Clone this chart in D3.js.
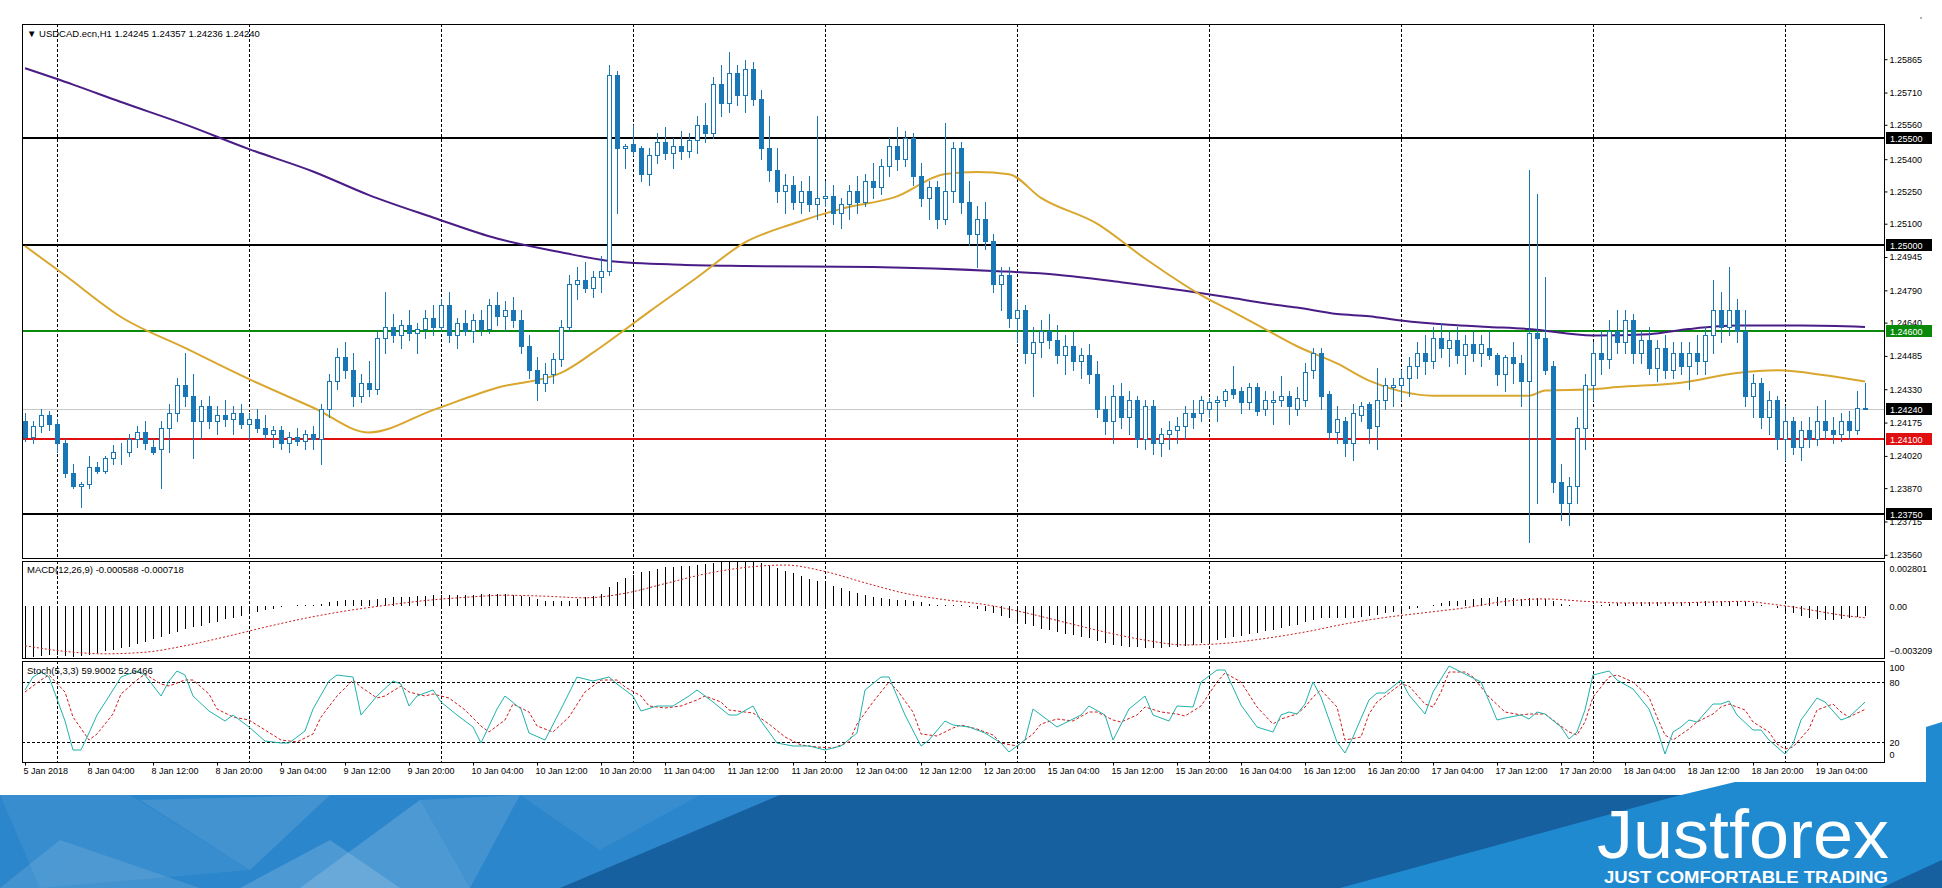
<!DOCTYPE html>
<html>
<head>
<meta charset="utf-8">
<script src="https://cdn.jsdelivr.net/npm/d3@7"></script>
<style>
  body { margin: 0; background: #fff; }
  svg { display: block; }
  text { font-family: "Liberation Sans", Arial, sans-serif; }
</style>
</head>
<body>
<svg></svg>
<script>
// ---- data ----
const title = '\u25BC USDCAD.ecn,H1  1.24245 1.24357 1.24236 1.24240'
const macdTitle = 'MACD(12,26,9) -0.000588 -0.000718'
const stochTitle = 'Stoch(5,3,3) 59.9002 52.6466'

// H1 candles, open / high / low / close
const ohlc = [
  [1.2418,1.2422,1.2409,1.2411],[1.2411,1.2418,1.2408,1.2416],[1.2416,1.2424,1.2413,1.2421],[1.2421,1.2423,1.2414,1.2417],
  [1.2417,1.2419,1.2404,1.2408],[1.2408,1.2410,1.2392,1.2394],[1.2394,1.2398,1.2387,1.2388],[1.2388,1.2390,1.2378,1.2389],
  [1.2389,1.2402,1.2387,1.2397],[1.2397,1.2399,1.2394,1.2395],[1.2395,1.2402,1.2394,1.2401],[1.2401,1.2407,1.2398,1.2404],
  [1.2404,1.2408,1.2398,1.2404],[1.2404,1.2412,1.2402,1.2410],[1.2410,1.2416,1.2406,1.2413],[1.2413,1.2418,1.2405,1.2408],
  [1.2406,1.2410,1.2403,1.2404],[1.2405,1.2418,1.2387,1.2415],[1.2415,1.2426,1.2404,1.2422],[1.2422,1.2438,1.2418,1.2435],
  [1.2435,1.2450,1.2425,1.2430],[1.2430,1.2440,1.2401,1.2418],[1.2418,1.2428,1.2410,1.2425],[1.2425,1.2430,1.2415,1.2418],
  [1.2418,1.2425,1.2412,1.2421],[1.2421,1.2428,1.2416,1.2419],[1.2419,1.2425,1.2412,1.2422],[1.2422,1.2426,1.2415,1.2417],
  [1.2417,1.2422,1.2410,1.2419],[1.2419,1.2424,1.2413,1.2415],[1.2415,1.2421,1.2410,1.2412],[1.2412,1.2416,1.2406,1.2414],
  [1.2414,1.2416,1.2405,1.2408],[1.2408,1.2413,1.2404,1.2411],[1.2411,1.2415,1.2407,1.2409],[1.2409,1.2414,1.2405,1.2412],
  [1.2412,1.2416,1.2405,1.2410],[1.2410,1.2426,1.2398,1.2424],[1.2424,1.2440,1.2420,1.2437],[1.2437,1.2452,1.2433,1.2448],
  [1.2448,1.2455,1.2438,1.2442],[1.2442,1.2450,1.2425,1.2430],[1.2430,1.2440,1.2427,1.2436],[1.2436,1.2446,1.2430,1.2433],
  [1.2433,1.2460,1.2431,1.2457],[1.2457,1.2478,1.2450,1.2462],[1.2462,1.2468,1.2455,1.2458],[1.2458,1.2465,1.2452,1.2463],
  [1.2463,1.2470,1.2456,1.2459],[1.2459,1.2464,1.2450,1.2461],[1.2461,1.2470,1.2457,1.2466],[1.2466,1.2472,1.2458,1.2462],
  [1.2462,1.2475,1.2460,1.2472],[1.2472,1.2478,1.2455,1.2458],[1.2458,1.2466,1.2452,1.2464],[1.2464,1.2470,1.2458,1.2460],
  [1.2460,1.2468,1.2455,1.2465],[1.2465,1.2470,1.2458,1.2461],[1.2461,1.2475,1.2459,1.2472],[1.2472,1.2478,1.2463,1.2467],
  [1.2467,1.2474,1.2460,1.2470],[1.2470,1.2476,1.2462,1.2465],[1.2465,1.2470,1.2450,1.2453],[1.2453,1.2458,1.2438,1.2442],
  [1.2442,1.2448,1.2428,1.2436],[1.2436,1.2445,1.2432,1.2440],[1.2440,1.2450,1.2436,1.2447],[1.2447,1.2465,1.2444,1.2462],
  [1.2462,1.2486,1.2460,1.2482],[1.2482,1.2490,1.2475,1.2484],[1.2484,1.2492,1.2478,1.2480],[1.2480,1.2488,1.2476,1.2485],
  [1.2485,1.2495,1.2478,1.2488],[1.2488,1.2584,1.2486,1.2579],[1.2579,1.2581,1.2515,1.2545],[1.2545,1.2547,1.2536,1.2546],
  [1.2547,1.2556,1.2542,1.2544],[1.2545,1.2546,1.2530,1.2533],[1.2533,1.2545,1.2528,1.2542],[1.2542,1.2552,1.2538,1.2548],
  [1.2548,1.2555,1.2540,1.2543],[1.2543,1.2550,1.2536,1.2546],[1.2546,1.2553,1.2540,1.2544],[1.2544,1.2552,1.2541,1.2549],
  [1.2549,1.2560,1.2543,1.2556],[1.2556,1.2566,1.2548,1.2552],[1.2552,1.2578,1.2550,1.2575],[1.2575,1.2584,1.2560,1.2566],
  [1.2566,1.2590,1.2562,1.2580],[1.2580,1.2584,1.2565,1.2570],[1.2570,1.2586,1.2562,1.2582],[1.2582,1.2585,1.2565,1.2568],
  [1.2568,1.2572,1.2540,1.2545],[1.2545,1.2560,1.2530,1.2535],[1.2535,1.2545,1.2520,1.2525],[1.2525,1.2533,1.2515,1.2528],
  [1.2528,1.2532,1.2517,1.2520],[1.2520,1.2530,1.2515,1.2525],[1.2525,1.2532,1.2516,1.2519],[1.2519,1.2560,1.2512,1.2522],
  [1.2522,1.2530,1.2518,1.2523],[1.2523,1.2528,1.2510,1.2515],[1.2515,1.2522,1.2508,1.2519],[1.2519,1.2528,1.2512,1.2525],
  [1.2525,1.2532,1.2515,1.2520],[1.2520,1.2533,1.2518,1.2530],[1.2530,1.2538,1.2522,1.2527],[1.2527,1.2540,1.2524,1.2537],
  [1.2537,1.2550,1.2532,1.2546],[1.2546,1.2555,1.2535,1.2540],[1.2540,1.2553,1.2537,1.2550],[1.2550,1.2552,1.2528,1.2532],
  [1.2532,1.2538,1.2518,1.2522],[1.2522,1.2530,1.2512,1.2527],[1.2527,1.2530,1.2508,1.2512],[1.2512,1.2557,1.2510,1.2525],
  [1.2525,1.2548,1.2520,1.2545],[1.2545,1.2548,1.2515,1.2520],[1.2520,1.2530,1.2500,1.2505],[1.2505,1.2518,1.2490,1.2512],
  [1.2512,1.2520,1.2498,1.2502],[1.2502,1.2505,1.2478,1.2482],[1.2482,1.2490,1.2470,1.2486],[1.2486,1.2490,1.2462,1.2466],
  [1.2466,1.2475,1.2455,1.2470],[1.2470,1.2472,1.2445,1.2450],[1.2450,1.2462,1.2430,1.2455],[1.2455,1.2465,1.2448,1.2460],
  [1.2460,1.2468,1.2452,1.2456],[1.2456,1.2463,1.2445,1.2449],[1.2449,1.2458,1.2440,1.2453],[1.2453,1.2460,1.2442,1.2446],
  [1.2446,1.2452,1.2438,1.2449],[1.2449,1.2454,1.2436,1.2440],[1.2440,1.2446,1.2420,1.2424],[1.2424,1.2430,1.2412,1.2418],
  [1.2418,1.2435,1.2408,1.2430],[1.2430,1.2436,1.2415,1.2420],[1.2420,1.2432,1.2412,1.2428],[1.2428,1.2430,1.2406,1.2410],
  [1.2410,1.2428,1.2405,1.2425],[1.2425,1.2428,1.2403,1.2408],[1.2408,1.2415,1.2402,1.2412],[1.2412,1.2418,1.2405,1.2414],
  [1.2414,1.2420,1.2408,1.2416],[1.2416,1.2425,1.2410,1.2422],[1.2422,1.2428,1.2415,1.2420],[1.2422,1.2430,1.2418,1.2428],
  [1.2424,1.2429,1.2420,1.2427],[1.2427,1.2430,1.2418,1.2428],[1.2428,1.2433,1.2425,1.2432],[1.2433,1.2444,1.2429,1.2431],
  [1.2432,1.2434,1.2422,1.2427],[1.2427,1.2436,1.2424,1.2434],[1.2434,1.2436,1.2421,1.2423],[1.2424,1.2432,1.2421,1.2428],
  [1.2427,1.2432,1.2417,1.2428],[1.2428,1.2439,1.2425,1.2430],[1.2430,1.2432,1.2417,1.2425],[1.2424,1.2434,1.2421,1.2429],
  [1.2428,1.2445,1.2425,1.2441],[1.2442,1.2452,1.2438,1.2450],[1.2450,1.2452,1.2424,1.2430],[1.2431,1.2432,1.2410,1.2413],
  [1.2413,1.2425,1.2408,1.2419],[1.2418,1.2420,1.2402,1.2408],[1.2408,1.2426,1.2400,1.2422],[1.2421,1.2427,1.2418,1.2425],
  [1.2426,1.2427,1.2408,1.2415],[1.2416,1.2443,1.2405,1.2428],[1.2428,1.2438,1.2424,1.2435],[1.2434,1.2438,1.2425,1.2435],
  [1.2435,1.2442,1.2428,1.2438],[1.2438,1.2448,1.2430,1.2444],[1.2444,1.2455,1.2438,1.2450],[1.2450,1.2458,1.2440,1.2446],
  [1.2446,1.2462,1.2443,1.2457],[1.2457,1.2464,1.2448,1.2452],[1.2452,1.2460,1.2444,1.2456],[1.2456,1.2462,1.2445,1.2449],
  [1.2449,1.2458,1.2440,1.2454],[1.2454,1.2460,1.2446,1.2450],[1.2450,1.2458,1.2444,1.2454],[1.2452,1.2460,1.2447,1.2449],
  [1.2449,1.2450,1.2435,1.2440],[1.2440,1.2449,1.2432,1.2448],[1.2448,1.2455,1.2436,1.2445],[1.2445,1.2449,1.2425,1.2437],
  [1.2437,1.2535,1.2362,1.2459],[1.2459,1.2524,1.2380,1.2457],[1.2457,1.2485,1.2440,1.2442],[1.2444,1.2446,1.2385,1.2390],
  [1.2390,1.2398,1.2372,1.2380],[1.2380,1.2392,1.2370,1.2388],[1.2388,1.2420,1.2380,1.2415],[1.2415,1.2440,1.2405,1.2435],
  [1.2435,1.2455,1.2428,1.2450],[1.2450,1.2460,1.2440,1.2447],[1.2447,1.2465,1.2443,1.2460],[1.2460,1.2470,1.2450,1.2455],
  [1.2455,1.2470,1.2450,1.2465],[1.2465,1.2468,1.2445,1.2450],[1.2450,1.2460,1.2445,1.2456],[1.2456,1.2462,1.2440,1.2443],
  [1.2443,1.2456,1.2437,1.2452],[1.2452,1.2458,1.2438,1.2442],[1.2442,1.2455,1.2438,1.2450],[1.2450,1.2455,1.2440,1.2444],
  [1.2444,1.2455,1.2433,1.2450],[1.2450,1.2458,1.2440,1.2446],[1.2446,1.2462,1.2440,1.2458],[1.2458,1.2484,1.2450,1.2470],
  [1.2470,1.2478,1.2455,1.2462],[1.2462,1.2490,1.2458,1.2470],[1.2470,1.2475,1.2455,1.2460],[1.2460,1.2470,1.2425,1.2430],
  [1.2430,1.2440,1.2420,1.2436],[1.2436,1.2438,1.2415,1.2420],[1.2420,1.2432,1.2412,1.2428],[1.2428,1.2430,1.2405,1.2410],
  [1.2410,1.2425,1.2400,1.2418],[1.2418,1.2420,1.2403,1.2406],[1.2406,1.2418,1.2400,1.2414],[1.2414,1.2420,1.2406,1.2410],
  [1.2410,1.2425,1.2407,1.2418],[1.2418,1.2428,1.2410,1.2414],[1.2414,1.2420,1.2408,1.2412],[1.2412,1.2422,1.2409,1.2418],
  [1.2418,1.2423,1.2410,1.2414],[1.2414,1.2432,1.2412,1.24245],[1.24245,1.24357,1.24236,1.24240]
]

// moving averages, [bar, price]
const maSlow = [[0,1.25823],[6,1.25747],[12,1.25666],[20,1.25562],[28,1.25447],[36,1.25343],[43,1.25233],[51,1.25129],
  [59,1.25031],[67,1.24967],[73,1.24927],[82,1.24909],[90,1.24903],[106,1.24898],[121,1.24880],[129,1.24863],[137,1.24828],
  [145,1.24788],[151,1.24754],[155,1.2473],[159,1.2471],[164,1.2468],[168,1.2467],[172,1.2465],[178,1.2463],[183,1.2462],
  [188,1.2461],[196,1.2458],[203,1.24586],[208,1.2461],[214,1.24626],[222,1.24626],[230,1.2462]]
const maFast = [[0,1.24996],[5,1.2486],[12,1.24666],[20,1.24522],[28,1.24377],[36,1.24245],[43,1.24129],[51,1.24233],
  [59,1.24337],[67,1.24406],[71,1.2450],[74,1.2458],[78,1.2469],[84,1.2485],[90,1.25013],[96,1.2510],[102,1.25169],
  [109,1.25227],[115,1.25331],[119,1.2534],[123,1.2533],[127,1.2522],[134,1.2510],[140,1.24938],[147,1.24768],[151,1.2469],
  [155,1.2461],[159,1.2453],[164,1.2445],[168,1.2437],[172,1.2432],[176,1.2430],[183,1.2430],[188,1.2430],[190,1.24324],
  [196,1.2433],[199,1.2434],[207,1.2436],[214,1.24406],[219,1.24418],[225,1.24395],[230,1.24366]]

// horizontal levels and bid
const levels = [1.25500, 1.25000, 1.24600, 1.24100, 1.23750]
const bid = 1.24240
const priceTicks = [1.25865,1.25710,1.25560,1.25400,1.25250,1.25100,1.24945,1.24790,1.24640,1.24485,
  1.24330,1.24175,1.24020,1.23870,1.23715,1.23560]

// MACD main, one per bar
const macdMain = [
  -0.00320,-0.00315,-0.00310,-0.00305,-0.00305,-0.00310,-0.00315,-0.00310,-0.00300,-0.00290,
  -0.00280,-0.00270,-0.00260,-0.00250,-0.00235,-0.00220,-0.00205,-0.00190,-0.00175,-0.00160,
  -0.00140,-0.00130,-0.00120,-0.00105,-0.00095,-0.00080,-0.00070,-0.00060,-0.00045,-0.00035,
  -0.00025,-0.00015,-0.00005,0.00000,0.00005,0.00010,0.00010,0.00015,0.00025,0.00035,
  0.00040,0.00040,0.00040,0.00040,0.00045,0.00050,0.00055,0.00060,0.00060,0.00065,
  0.00065,0.00070,0.00070,0.00070,0.00070,0.00070,0.00070,0.00075,0.00075,0.00075,
  0.00075,0.00070,0.00065,0.00055,0.00045,0.00035,0.00030,0.00030,0.00035,0.00045,
  0.00055,0.00065,0.00075,0.00120,0.00150,0.00175,0.00195,0.00210,0.00220,0.00230,
  0.00240,0.00245,0.00250,0.00250,0.00255,0.00260,0.00270,0.00275,0.00280,0.00280,
  0.00280,0.00275,0.00265,0.00250,0.00235,0.00220,0.00205,0.00190,0.00170,0.00155,
  0.00140,0.00125,0.00110,0.00095,0.00080,0.00070,0.00060,0.00050,0.00045,0.00040,
  0.00040,0.00035,0.00025,0.00015,0.00010,0.00005,0.00010,0.00005,-0.00005,-0.00015,
  -0.00030,-0.00045,-0.00060,-0.00075,-0.00090,-0.00110,-0.00125,-0.00140,-0.00150,-0.00160,
  -0.00170,-0.00180,-0.00190,-0.00200,-0.00215,-0.00230,-0.00240,-0.00245,-0.00250,-0.00255,
  -0.00260,-0.00260,-0.00260,-0.00255,-0.00250,-0.00245,-0.00240,-0.00230,-0.00220,-0.00210,
  -0.00200,-0.00190,-0.00185,-0.00175,-0.00165,-0.00155,-0.00145,-0.00135,-0.00125,-0.00115,
  -0.00100,-0.00085,-0.00075,-0.00070,-0.00070,-0.00070,-0.00070,-0.00065,-0.00060,-0.00055,
  -0.00045,-0.00035,-0.00030,-0.00020,-0.00010,0.00000,0.00010,0.00020,0.00030,0.00035,
  0.00040,0.00045,0.00050,0.00050,0.00055,0.00050,0.00050,0.00045,0.00050,0.00050,
  0.00045,0.00030,0.00015,0.00005,0.00000,0.00000,0.00005,0.00010,0.00015,0.00020,
  0.00020,0.00025,0.00025,0.00025,0.00025,0.00025,0.00025,0.00025,0.00025,0.00025,
  0.00030,0.00030,0.00030,0.00035,0.00030,0.00025,0.00020,0.00010,0.00000,-0.00010,
  -0.00030,-0.00045,-0.00060,-0.00070,-0.00080,-0.00085,-0.00085,-0.00080,-0.00070,-0.00065,
  -0.000588
]
// MACD signal, [bar, value]
const macdSignal = [[0,-0.00245],[5,-0.00280],[10,-0.00295],[15,-0.00285],[20,-0.00245],[25,-0.00190],[30,-0.00130],
  [35,-0.00075],[40,-0.00030],[45,0.00005],[50,0.00035],[55,0.00055],[60,0.00068],[65,0.00062],[70,0.00052],[75,0.00080],
  [80,0.00140],[85,0.00200],[90,0.00240],[95,0.00255],[100,0.00215],[105,0.00145],[110,0.00080],[115,0.00040],[120,0.00010],
  [125,-0.00040],[130,-0.00100],[135,-0.00160],[140,-0.00210],[145,-0.00240],[150,-0.00230],[155,-0.00200],[160,-0.00160],
  [165,-0.00110],[170,-0.00070],[175,-0.00040],[180,-0.00010],[185,0.00030],[190,0.00045],[195,0.00030],[200,0.00020],
  [205,0.00020],[210,0.00025],[215,0.00030],[218,0.00015],[221,-0.00005],[224,-0.00030],[227,-0.00055],[230,-0.000718]]
const macdTicks = [0.002801, 0, -0.003209]

// Stochastic, [bar, value]
const stochMain = [[0,72],[1,85],[2,90],[3,85],[5,41],[6,12],[7,12],[8,29],[9,47],[11,72],[12,85],[14,91],[15,87],[17,66],
  [18,81],[19,91],[20,87],[21,66],[23,51],[25,41],[26,47],[28,35],[30,21],[32,19],[33,19],[35,31],[36,53],[38,81],[39,87],
  [41,85],[42,47],[44,66],[46,81],[47,78],[48,56],[49,66],[51,72],[52,60],[54,47],[56,35],[57,19],[59,53],[60,66],[62,53],
  [63,29],[65,22],[67,53],[69,85],[71,81],[73,85],[74,78],[76,66],[77,51],[79,56],[81,56],[83,66],[84,72],[86,60],[88,47],
  [89,47],[91,56],[92,41],[94,19],[96,16],[98,16],[100,12],[102,16],[104,29],[105,72],[107,85],[108,85],[110,47],[112,16],
  [113,22],[115,41],[116,37],[118,35],[120,29],[122,19],[123,10],[125,22],[126,53],[128,41],[129,35],[132,47],[133,56],
  [135,47],[136,22],[138,53],[140,66],[141,47],[143,41],[144,56],[146,55],[147,80],[149,92],[150,92],[152,57],[154,35],
  [156,30],[157,47],[158,50],[159,48],[160,58],[161,80],[162,65],[164,20],[165,9],[166,25],[168,62],[169,69],[170,69],
  [172,82],[173,67],[175,48],[176,70],[178,96],[179,92],[182,80],[184,42],[185,44],[187,47],[188,43],[189,50],[190,48],
  [192,35],[193,23],[194,30],[195,52],[196,87],[198,91],[199,82],[201,73],[203,53],[204,33],[205,8],[206,30],[207,35],
  [208,42],[209,40],[211,58],[212,58],[213,61],[214,47],[216,32],[217,32],[218,22],[220,8],[221,18],[222,42],[224,64],
  [225,60],[227,42],[228,45],[230,59.9]]
const stochSignal = [[0,70],[2,82],[3,87],[5,70],[6,45],[8,22],[9,28],[11,48],[12,68],[14,82],[15,88],[17,78],[18,76],
  [20,82],[21,82],[23,68],[24,53],[26,45],[28,42],[30,32],[32,22],[34,20],[36,28],[37,45],[39,66],[41,82],[42,75],[44,64],
  [45,66],[47,76],[48,70],[50,66],[51,68],[53,64],[55,52],[57,36],[58,30],[60,42],[61,58],[63,50],[64,36],[66,30],[68,45],
  [70,70],[72,82],[74,82],[75,75],[77,66],[78,56],[80,54],[82,56],[84,62],[85,66],[87,60],[88,52],[90,50],[91,49],[93,38],
  [95,25],[97,17],[99,15],[101,14],[103,20],[104,38],[106,60],[108,80],[109,72],[111,50],[112,28],[114,26],[116,34],[117,37],
  [119,33],[121,27],[122,19],[124,16],[126,28],[127,38],[129,43],[131,41],[133,50],[134,50],[136,42],[137,40],[139,47],
  [140,55],[142,50],[144,48],[145,46],[147,56],[149,80],[150,89],[152,80],[154,55],[156,38],[157,43],[159,48],[160,55],
  [161,65],[162,72],[164,55],[165,22],[167,25],[168,48],[169,60],[171,72],[172,78],[173,76],[175,58],[176,55],[177,70],
  [178,90],[180,90],[181,85],[183,65],[185,50],[187,47],[188,48],[190,48],[191,42],[193,30],[194,27],[195,40],[196,65],
  [198,85],[199,87],[201,80],[203,65],[204,45],[205,27],[206,22],[208,33],[209,40],[211,48],[212,55],[213,58],[215,52],
  [216,40],[218,30],[219,18],[220,13],[221,15],[223,33],[224,52],[226,58],[227,50],[228,45],[230,52.6]]
const stochTicks = [100, 80, 20, 0]
const stochLevels = [80, 20]

// time axis
const xTickBars = [0,8,16,24,32,40,48,56,64,72,80,88,96,104,112,120,128,136,144,152,160,168,176,184,192,200,208,216,224]
const xTickLabels = ['5 Jan 2018','8 Jan 04:00','8 Jan 12:00','8 Jan 20:00','9 Jan 04:00','9 Jan 12:00','9 Jan 20:00',
  '10 Jan 04:00','10 Jan 12:00','10 Jan 20:00','11 Jan 04:00','11 Jan 12:00','11 Jan 20:00','12 Jan 04:00','12 Jan 12:00',
  '12 Jan 20:00','15 Jan 04:00','15 Jan 12:00','15 Jan 20:00','16 Jan 04:00','16 Jan 12:00','16 Jan 20:00','17 Jan 04:00',
  '17 Jan 12:00','17 Jan 20:00','18 Jan 04:00','18 Jan 12:00','18 Jan 20:00','19 Jan 04:00']
const gridBars = [4,28,52,76,100,124,148,172,196,220]

// ---- layout ----
const w = 1942
const h = 888
const left = 22
const right = 1884
const pricePanel = [24, 558]
const macdPanel = [561, 658]
const stochPanel = [661, 762]

const candleColor = '#1a77b6'
const levelColors = ['#000', '#000', '#0a8a0a', '#e01010', '#000']
const font = '"Liberation Sans", Arial, sans-serif'

const svg = d3.select('svg').attr('width', w).attr('height', h)

const x = d3.scaleLinear().domain([-0.375, 232.375]).range([left, right])
const yP = d3.scaleLinear().domain([1.235451, 1.260288]).range([pricePanel[1], pricePanel[0]])
const yM = d3.scaleLinear().domain([-0.003209, 0.002801]).range([macdPanel[1], macdPanel[0]])
const yS = d3.scaleLinear().domain([0, 100]).range([stochPanel[1], stochPanel[0] + 1])

const defs = svg.append('defs')
const clip = (id, p) => defs.append('clipPath').attr('id', id)
  .append('rect').attr('x', left + 1).attr('y', p[0] + 1).attr('width', right - left - 1).attr('height', p[1] - p[0] - 1)
clip('cp', pricePanel)
clip('cm', macdPanel)
clip('cs', stochPanel)

// grid
for (const p of [pricePanel, macdPanel, stochPanel]) {
  svg.append('g').selectAll('line').data(gridBars).join('line')
    .attr('x1', d => Math.round(x(d)) + 0.5).attr('x2', d => Math.round(x(d)) + 0.5)
    .attr('y1', p[0]).attr('y2', p[1])
    .attr('stroke', '#000').attr('stroke-dasharray', '3,2').attr('shape-rendering', 'crispEdges')
}

// ---- price panel ----
const gp = svg.append('g').attr('clip-path', 'url(#cp)')

gp.append('line').attr('x1', left).attr('x2', right)
  .attr('y1', Math.round(yP(bid)) + 0.5).attr('y2', Math.round(yP(bid)) + 0.5)
  .attr('stroke', '#c8c8c8').attr('shape-rendering', 'crispEdges')

gp.selectAll('line.level').data(levels).join('line').attr('class', 'level')
  .attr('x1', left).attr('x2', right)
  .attr('y1', d => Math.round(yP(d))).attr('y2', d => Math.round(yP(d)))
  .attr('stroke', (d, i) => levelColors[i]).attr('stroke-width', 2).attr('shape-rendering', 'crispEdges')

const maLine = d3.line().x(d => x(d[0])).y(d => yP(d[1])).curve(d3.curveMonotoneX)
gp.append('path').attr('d', maLine(maSlow)).attr('fill', 'none').attr('stroke', '#4a1c86').attr('stroke-width', 2)
gp.append('path').attr('d', maLine(maFast)).attr('fill', 'none').attr('stroke', '#d9a62e').attr('stroke-width', 2)

const bx = i => Math.round(x(i))
gp.selectAll('line.wick').data(ohlc).join('line').attr('class', 'wick')
  .attr('x1', (d, i) => bx(i) + 0.5).attr('x2', (d, i) => bx(i) + 0.5)
  .attr('y1', d => Math.round(yP(d[1]))).attr('y2', d => Math.round(yP(d[2])) + 1)
  .attr('stroke', candleColor).attr('shape-rendering', 'crispEdges')

gp.selectAll('rect.body').data(ohlc).join('rect').attr('class', 'body')
  .attr('x', (d, i) => bx(i) - 2 + 0.5)
  .attr('width', 4)
  .attr('y', d => Math.round(yP(Math.max(d[0], d[3]))) + 0.5)
  .attr('height', d => Math.max(0, Math.round(yP(Math.min(d[0], d[3]))) - Math.round(yP(Math.max(d[0], d[3])))))
  .attr('fill', d => d[3] >= d[0] ? '#fff' : candleColor)
  .attr('stroke', candleColor).attr('shape-rendering', 'crispEdges')

// price axis
const yAxis = d3.axisRight(yP).tickValues(priceTicks).tickFormat(d3.format('.5f')).tickSize(3).tickPadding(2)
svg.append('g').attr('transform', `translate(${right + 0.5},0)`).call(yAxis)
  .call(g => g.select('.domain').remove())
  .attr('font-family', font).attr('font-size', 9)

// level labels on the axis
const boxes = [...levels.map((d, i) => ({ v: d, c: levelColors[i] })), { v: bid, c: '#000' }]
const lab = svg.append('g').selectAll('g').data(boxes).join('g')
  .attr('transform', d => `translate(${right + 2},${Math.round(yP(d.v))})`)
lab.append('rect').attr('x', 0).attr('y', -6).attr('width', 46).attr('height', 12).attr('fill', d => d.c)
lab.append('text').attr('x', 4).attr('y', 3.5).attr('fill', '#fff').attr('font-size', 9)
  .text(d => d3.format('.5f')(d.v))

svg.append('text').attr('x', 27).attr('y', 37).attr('font-size', 9.5).text(title)
svg.append('circle').attr('cx', 1921).attr('cy', 18).attr('r', 1).attr('fill', '#999')

// ---- MACD panel ----
const gm = svg.append('g').attr('clip-path', 'url(#cm)')
gm.selectAll('line').data(macdMain).join('line')
  .attr('x1', (d, i) => bx(i) + 0.5).attr('x2', (d, i) => bx(i) + 0.5)
  .attr('y1', yM(0)).attr('y2', d => yM(d))
  .attr('stroke', '#000').attr('shape-rendering', 'crispEdges')
gm.append('path').attr('d', d3.line().x(d => x(d[0])).y(d => yM(d[1])).curve(d3.curveMonotoneX)(macdSignal))
  .attr('fill', 'none').attr('stroke', '#c81e1e').attr('stroke-dasharray', '2,2')

svg.append('g').attr('transform', `translate(${right + 0.5},0)`)
  .call(d3.axisRight(yM).tickValues(macdTicks).tickSize(0).tickPadding(5)
    .tickFormat(d => d === 0 ? '0.00' : d3.format('.6f')(d)))
  .call(g => g.select('.domain').remove())
  .call(g => g.selectAll('.tick text').attr('dy', (d, i) => i === 0 ? 10 : i === 2 ? -5 : 3))
  .attr('font-family', font).attr('font-size', 9)

svg.append('text').attr('x', 27).attr('y', 573).attr('font-size', 9.5).text(macdTitle)

// ---- Stochastic panel ----
const gs = svg.append('g').attr('clip-path', 'url(#cs)')
gs.selectAll('line').data(stochLevels).join('line')
  .attr('x1', left).attr('x2', right)
  .attr('y1', d => Math.round(yS(d)) + 0.5).attr('y2', d => Math.round(yS(d)) + 0.5)
  .attr('stroke', '#000').attr('stroke-dasharray', '3,2').attr('shape-rendering', 'crispEdges')
const sLine = d3.line().x(d => x(d[0])).y(d => yS(d[1]))
gs.append('path').attr('d', sLine(stochSignal)).attr('fill', 'none').attr('stroke', '#d01c1c').attr('stroke-dasharray', '3,2')
gs.append('path').attr('d', sLine(stochMain)).attr('fill', 'none').attr('stroke', '#20b2aa')

svg.append('g').attr('transform', `translate(${right + 0.5},0)`)
  .call(d3.axisRight(yS).tickValues(stochTicks).tickSize(0).tickPadding(5))
  .call(g => g.select('.domain').remove())
  .call(g => g.selectAll('.tick text').attr('dy', (d, i) => i === 0 ? 8 : i === 3 ? -5 : 3))
  .attr('font-family', font).attr('font-size', 9)

svg.append('text').attr('x', 27).attr('y', 674).attr('font-size', 9.5).text(stochTitle)

// time axis
svg.append('g').attr('transform', `translate(0,${stochPanel[1] + 0.5})`)
  .call(d3.axisBottom(x).tickValues(xTickBars).tickSize(3).tickPadding(2).tickFormat((d, i) => xTickLabels[i]))
  .call(g => g.select('.domain').remove())
  .call(g => g.selectAll('.tick text').attr('text-anchor', 'start').attr('x', -2))
  .attr('font-family', font).attr('font-size', 9)

// frame
const frame = svg.append('g').attr('stroke', '#000').attr('shape-rendering', 'crispEdges')
for (const p of [pricePanel, macdPanel, stochPanel]) {
  frame.append('rect').attr('x', left + 0.5).attr('y', p[0] + 0.5)
    .attr('width', right - left).attr('height', p[1] - p[0]).attr('fill', 'none')
}

// ---- banner ----
const banner = svg.append('g')
banner.append('rect').attr('x', 0).attr('y', 795).attr('width', w).attr('height', h - 795).attr('fill', '#16609f')
banner.append('polygon').attr('points', '0,795 780,795 560,888 0,888').attr('fill', '#2c86cb')
const facets = [
  '0,795 130,795 40,888', '140,800 330,795 250,870', '300,888 420,800 470,888',
  '520,795 700,795 600,850', '60,840 200,888 0,888', '330,840 400,888 240,888',
  '130,795 250,870 40,888', '420,800 520,795 470,888'
]
banner.selectAll('polygon.f').data(facets).join('polygon').attr('class', 'f')
  .attr('points', d => d).attr('fill', '#fff').attr('opacity', (d, i) => 0.06 + (i % 3) * 0.05)
banner.append('polygon')
  .attr('points', '1340,888 1673,797 1735,782 1926,782 1926,727 1942,722 1942,860 1881,888')
  .attr('fill', '#1f8ad0')
banner.append('text').attr('x', 1597).attr('y', 858).attr('fill', '#fff')
  .attr('font-family', '"Open Sans", sans-serif').attr('font-size', 68).attr('font-weight', 500)
  .attr('textLength', 292).attr('lengthAdjust', 'spacingAndGlyphs').text('Justforex')
banner.append('text').attr('x', 1604).attr('y', 883).attr('fill', '#fff')
  .attr('font-family', 'Roboto, sans-serif').attr('font-size', 16).attr('font-weight', 700)
  .attr('textLength', 284).attr('lengthAdjust', 'spacingAndGlyphs').text('JUST COMFORTABLE TRADING')
</script>
</body>
</html>
